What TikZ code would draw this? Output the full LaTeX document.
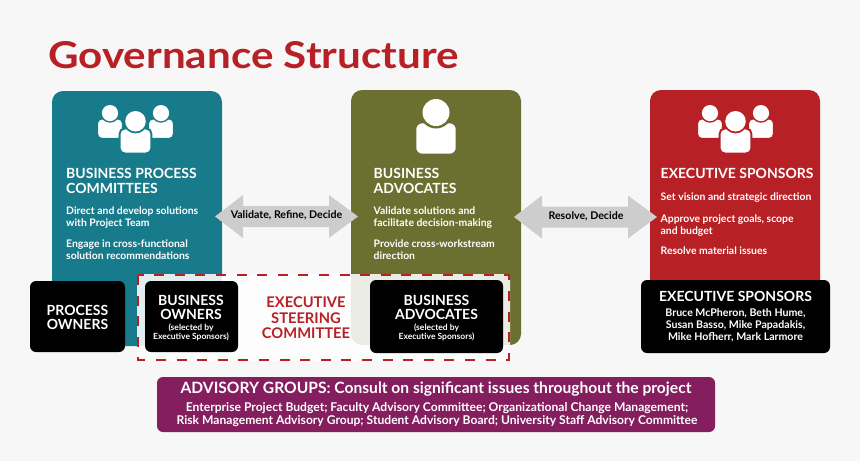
\documentclass[tikz,border=0pt]{standalone}
\usepackage{fontspec}
\setmainfont{Lato}
\newfontfamily\titlefont[FakeStretch=1.14]{Lato}
\definecolor{bgc}{HTML}{F7F7F7}
\definecolor{teal1}{HTML}{187B8B}
\definecolor{olive1}{HTML}{6B7030}
\definecolor{red1}{HTML}{B72025}
\definecolor{arrowc}{HTML}{CDCDCD}
\definecolor{purp}{HTML}{841E5E}
\tikzset{x=1pt,y=-1pt,
 blk/.style={fill=black,rounded corners=6pt},
 head/.style={font=\bfseries\fontsize{14}{14.6}\selectfont,text=white,align=left,anchor=north west,inner sep=0pt},
 body/.style={font=\bfseries\fontsize{10.4}{12.4}\selectfont,text=white,align=left,anchor=north west,inner sep=0pt},
 blkt/.style={font=\bfseries\fontsize{14}{14}\selectfont,text=white,align=center,inner sep=0pt},
 tinyt/.style={font=\bfseries\fontsize{8.5}{9}\selectfont,text=white,align=center,inner sep=0pt},
 arr/.style={font=\bfseries\fontsize{10.6}{11}\selectfont,text=black,inner sep=0pt},
}
% x, y(top of head), scale, panel colour
\newcommand{\person}[4]{%
 \begin{scope}[shift={(#1,#2)},scale=#3]
 \fill[white,draw=#4,line width=#3*2.6pt,rounded corners=#3*7pt] (-21,56) -- (-21,23) -- (21,23) -- (21,56) -- cycle;
 \fill[#4] (0,13.5) circle (16);
 \fill[white] (0,13.5) circle (13.5);
 \end{scope}}
\newcommand{\trio}[3]{%
 \person{#1-25.5}{#2-6}{0.6}{#3}\person{#1+25.5}{#2-6}{0.6}{#3}
 \person{#1}{#2}{0.76}{#3}}
\begin{document}
\begin{tikzpicture}
\fill[bgc] (0,0) rectangle (860,461);
\useasboundingbox (0,0) rectangle (860,461);
\node[anchor=west,inner sep=0pt,text=red1,font=\titlefont\bfseries\fontsize{37}{40}\selectfont] (title) at (48,55) {Governance Structure};
\fill[teal1,rounded corners=11pt] (52,91) rectangle (222,346);
\fill[olive1,rounded corners=11pt] (351,90) rectangle (521,345);
\fill[red1,rounded corners=11pt] (650,90) rectangle (820,300);
% icons
\trio{135.5}{111}{teal1}
\person{436}{99}{1}{olive1}
\trio{735.5}{111}{red1}
% text
\node[head] (h1) at (66,168.5) {BUSINESS PROCESS\\COMMITTEES};
\node[body] (b1) at (66,206.5) {Direct and develop solutions\\with Project Team};
\node[body] (b1b) at (66,239.5) {Engage in cross-functional\\solution recommendations};
\node[head] (h2) at (373.5,168.5) {BUSINESS\\ADVOCATES};
\node[body] (b2) at (373.5,206.5) {Validate solutions and\\facilitate decision-making};
\node[body] (b2b) at (373.5,239.5) {Provide cross-workstream\\direction};
\node[head] (h3) at (660.5,168.5) {EXECUTIVE SPONSORS};
\node[body] (b3) at (660.5,193) {Set vision and strategic direction};
\node[body] (b3b) at (660.5,214.5) {Approve project goals, scope\\and budget};
\node[body] (b3c) at (660.5,247) {Resolve material issues};
% arrows
\fill[arrowc] (215,216.5) -- (243,195) -- (243,206) -- (329,206) -- (329,195) -- (358,216.5) -- (329,238) -- (329,227) -- (243,227) -- (243,238) -- cycle;
\fill[arrowc] (514,217) -- (542,195.5) -- (542,206.5) -- (628,206.5) -- (628,195.5) -- (657,217) -- (628,238.5) -- (628,227.5) -- (542,227.5) -- (542,238.5) -- cycle;
\node[arr] (a1) at (286.5,215.5) {Validate, Refine, Decide};
\node[arr] (a2) at (586,216) {Resolve, Decide};
% steering
\fill[white,opacity=.87,rounded corners=6pt] (137,274) rectangle (510,361);
\draw[red1,line width=2.4pt,dash pattern=on 10pt off 10.6pt] (138,275) rectangle (509,360);
% black
\fill[blk] (30,281) rectangle (125,352);
\fill[blk] (145,281) rectangle (238,352);
\fill[blk] (370,280) rectangle (503,353);
\fill[blk] (641,280) rectangle (830,353);
\node[blkt] (n1) at (77.5,317) {PROCESS\\OWNERS};
\node[blkt] (n2) at (191,307.5) {BUSINESS\\OWNERS};
\node[tinyt] (n2b) at (191,332.5) {(selected by\\Executive Sponsors)};
\node[blkt] (n3) at (436.5,307.5) {BUSINESS\\ADVOCATES};
\node[tinyt] (n3b) at (436.5,332.5) {(selected by\\Executive Sponsors)};
\node[inner sep=0pt,text=red1,align=center,font=\bfseries\fontsize{14.7}{15.5}\selectfont] (esc) at (306,318) {EXECUTIVE\\STEERING\\COMMITTEE};
\node[blkt] (n4) at (735.5,296.5) {EXECUTIVE SPONSORS};
\node[inner sep=0pt,align=center,text=white,font=\bfseries\fontsize{10.6}{12}\selectfont] (n4b) at (735.5,325) {Bruce McPheron, Beth Hume,\\Susan Basso, Mike Papadakis,\\Mike Hofherr, Mark Larmore};
% advisory
\fill[purp,rounded corners=6pt] (157,377) rectangle (715,432);
\node[inner sep=0pt,text=white,font=\bfseries\fontsize{15.6}{17}\selectfont] (adv) at (436,389.5) {ADVISORY GROUPS: Consult on significant issues throughout the project};
\node[inner sep=0pt,text=white,align=center,font=\bfseries\fontsize{12.1}{13.6}\selectfont] (advb) at (437,414.5) {Enterprise Project Budget; Faculty Advisory Committee; Organizational Change Management;\\Risk Management Advisory Group; Student Advisory Board; University Staff Advisory Committee};
\end{tikzpicture}
\end{document}
